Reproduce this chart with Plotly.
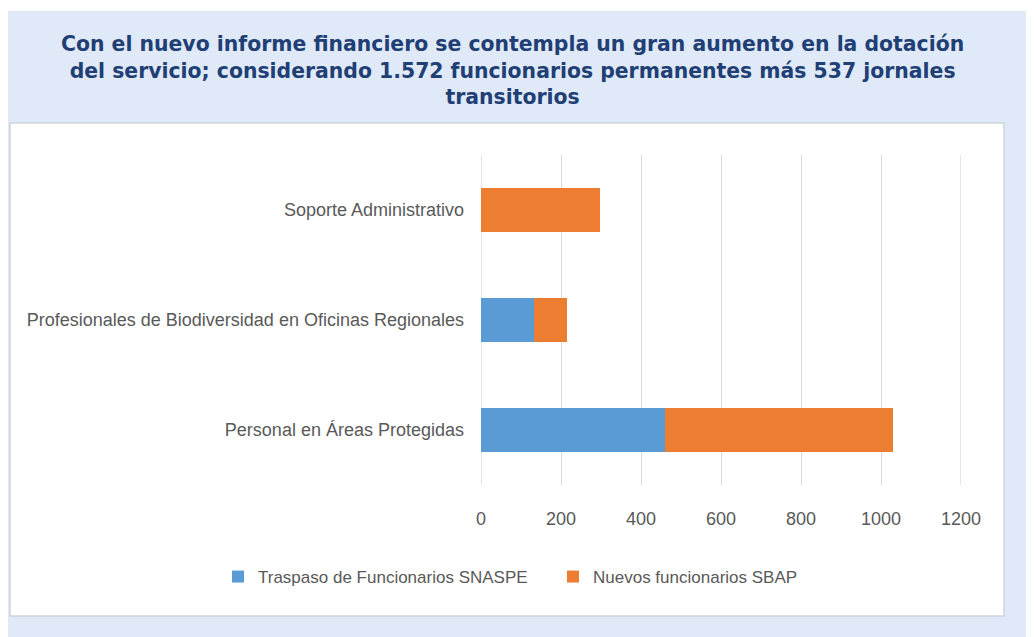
import plotly.graph_objects as go

categories = ["Personal en Áreas Protegidas",
              "Profesionales de Biodiversidad en Oficinas Regionales",
              "Soporte Administrativo"]
traspaso_snaspe = [461, 132, 0]
nuevos_sbap = [570, 82, 297]
series_names = ["Traspaso de Funcionarios SNASPE", "Nuevos funcionarios SBAP"]
x_ticks = [0, 200, 400, 600, 800, 1000, 1200]
title_lines = ["Con el nuevo informe financiero se contempla un gran aumento en la dotación",
               "del servicio; considerando 1.572 funcionarios permanentes más 537 jornales",
               "transitorios"]

OFF = 8  # page body margin
W, H = 1034 - OFF, 637 - OFF
PL, PR, PT, PB = 481, 961, 155, 485  # plot area in page pixels
GRID = "#d9d9d9"


def px_x(p):
    return (p - PL) / (PR - PL)


def px_y(p):
    return (PB - p) / (PB - PT)


label_font = dict(family="Liberation Sans, Arial, sans-serif", size=18, color="#595959")
legend_font = dict(family="Liberation Sans, Arial, sans-serif", size=17, color="#595959")

fig = go.Figure()
fig.add_trace(go.Bar(y=categories, x=traspaso_snaspe, orientation="h", name=series_names[0],
                     marker=dict(color="#5b9bd5", line=dict(width=0)), width=0.4))
fig.add_trace(go.Bar(y=categories, x=nuevos_sbap, orientation="h", name=series_names[1],
                     marker=dict(color="#ed7d31", line=dict(width=0)), width=0.4))

shapes = [
    # textured-blue backdrop
    dict(type="rect", xref="paper", yref="paper", layer="below",
         x0=px_x(8), x1=px_x(1040), y0=px_y(11), y1=px_y(645),
         fillcolor="#dfe9f8", line=dict(width=0)),
    # white chart panel
    dict(type="rect", xref="paper", yref="paper", layer="below",
         x0=px_x(10), x1=px_x(1004), y0=px_y(123), y1=px_y(616),
         fillcolor="#ffffff", line=dict(color="#d0d4da", width=1.5)),
]
# edge gridlines (0 and 1200) that plotly suppresses at the plot border
for v in (x_ticks[0], x_ticks[-1]):
    shapes.append(dict(type="line", xref="x", yref="paper", layer="below",
                       x0=v, x1=v, y0=0, y1=1, line=dict(color=GRID, width=1.3)))

fig.update_layout(
    width=W, height=H,
    margin=dict(l=PL - OFF, r=(W + OFF) - PR, t=PT - OFF, b=(H + OFF) - PB, pad=0),
    paper_bgcolor="#ffffff",
    plot_bgcolor="rgba(0,0,0,0)",
    barmode="stack",
    showlegend=True,
    legend=dict(orientation="h", xref="paper", yref="paper",
                x=px_x(218), xanchor="left", y=px_y(577), yanchor="middle",
                font=legend_font, bgcolor="rgba(0,0,0,0)", traceorder="normal",
                entrywidth=290, borderwidth=0),
    xaxis=dict(range=[0, 1200], tickvals=x_ticks, ticktext=[str(v) for v in x_ticks],
               showgrid=True, gridcolor=GRID, gridwidth=1.3, zeroline=False,
               showline=False, ticks="", tickfont=label_font, ticklabelstandoff=21,
               fixedrange=True),
    yaxis=dict(categoryorder="array", categoryarray=categories, range=[-0.5, 2.5],
               showgrid=False, zeroline=False, showline=False, ticks="",
               tickfont=label_font, ticklabelstandoff=16, fixedrange=True),
    shapes=shapes,
    annotations=[dict(xref="paper", yref="paper", x=px_x(512), y=px_y(70),
                      xanchor="center", yanchor="middle", showarrow=False,
                      text="<br>".join(title_lines), align="center",
                      font=dict(family="DejaVu Sans, Verdana, sans-serif", size=20.4,
                                color="#213f75", weight="bold"))],
)

fig.write_html("out.html")
